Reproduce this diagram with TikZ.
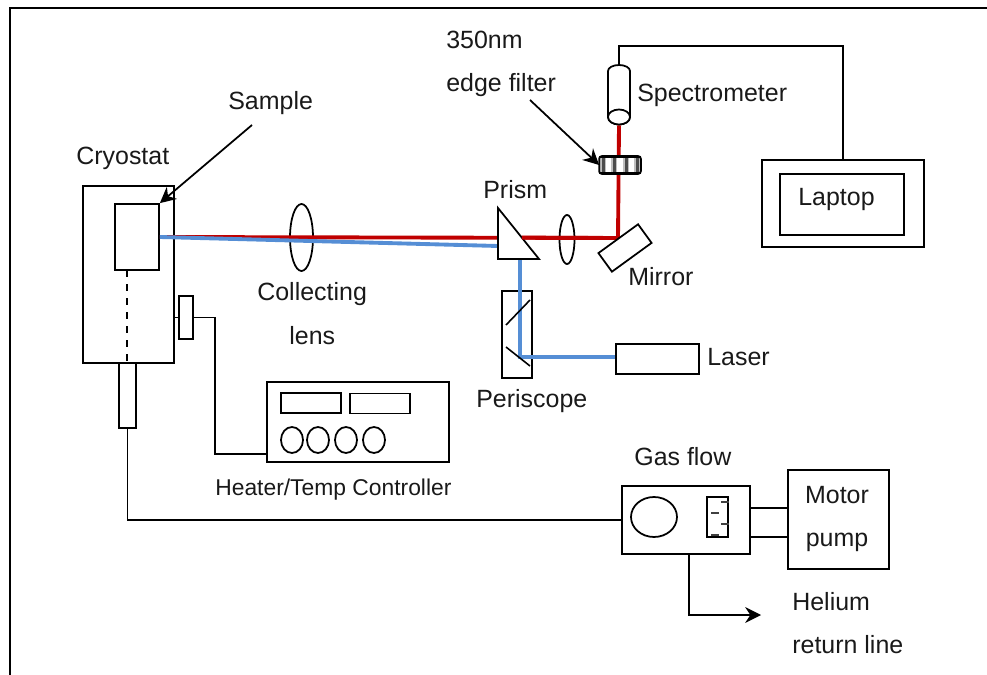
\documentclass[tikz,border=0pt]{standalone}
\usepackage{fontspec}
\setmainfont{Liberation Sans}
\usetikzlibrary{shapes,arrows.meta,positioning,calc}

\tikzset{
    box/.style={draw=black, line width=1pt, rectangle, inner sep=0pt, fill=white},
    knob/.style={draw=black, line width=1pt, ellipse, inner sep=0pt},
    wire/.style={draw=black, line width=0.9pt},
    lbl/.style={font=\fontsize{14.2}{17}\selectfont, anchor=base west, inner sep=0pt, text=black!90},
    redbeam/.style={draw=beamred, line width=2.2pt},
    bluebeam/.style={draw=beamblue, line width=2.2pt},
    pointer/.style={draw=black, line width=1pt, -{Stealth[length=9pt, width=9pt]}}
}

\begin{document}
\begin{tikzpicture}[x=0.02cm, y=-0.02cm]
        \definecolor{beamred}{RGB}{192,0,0}
        \definecolor{beamblue}{RGB}{85,142,213}

        \useasboundingbox (0,0) rectangle (987,675);

        % Page frame, open on the right and at the bottom
        \draw[line width=1.6pt] (10,675) -- (10,8) -- (987,8);

        % Cryostat
        \node[box, minimum width=1.82cm, minimum height=3.54cm] (cryostat) at (128.5,274.5) {};
        \node[box, minimum width=0.88cm, minimum height=1.32cm] (samplebox) at (137,237) {};
        \node[box, minimum width=0.34cm, minimum height=1.30cm] (tube) at (127.5,395.5) {};
        \node[box, minimum width=0.28cm, minimum height=0.86cm] (heater) at (186,317.5) {};
        \draw[wire, line width=1pt, dash pattern=on 4pt off 4pt] (127,270) -- (127,363);
        \coordinate (heaterin) at (cryostat.east |- heater.west);
        \draw[wire] (heaterin) -- (heater.west);

        % Heater controller
        \node[box, minimum width=3.64cm, minimum height=1.60cm] (controller) at (358,422) {};
        \node[box, minimum width=1.20cm, minimum height=0.40cm] (displayA) at (311,403) {};
        \node[box, minimum width=1.20cm, minimum height=0.40cm] (displayB) at (380,403.5) {};
        \foreach \kx/\kname in {292/knobA, 318/knobB, 346/knobC, 374/knobD} {
            \node[knob, minimum width=0.44cm, minimum height=0.52cm] (\kname) at (\kx,440) {};
        }
        \coordinate (heatcorner) at (215,317.5);
        \coordinate (heatin) at (controller.west |- 0,454);
        \draw[wire] (heater.east) -- (heatcorner) |- (heatin);

        % Optics
        \node[knob, minimum width=0.46cm, minimum height=1.34cm] (collectlens) at (301.5,237.5) {};
        \node[knob, minimum width=0.30cm, minimum height=0.98cm] (smalllens) at (567,239.5) {};
        \coordinate (prismA) at (498,208);
        \coordinate (prismB) at (498,259);
        \coordinate (prismC) at (539,259);
        \coordinate (turn) at (618,238);
        \coordinate (blueend) at (498,246);
        \coordinate (bluedrop) at (520,259);
        \coordinate (bluefoot) at (520,357);
        \node[box, minimum width=0.60cm, minimum height=1.74cm] (periscope) at (517,334.5) {};
        \node[box, minimum width=1.66cm, minimum height=0.60cm] (laser) at (657.5,359) {};
        \coordinate (laserout) at (laser.west |- bluefoot);
        \node[knob, minimum width=0.44cm, minimum height=0.30cm, fill=white] (specend) at (619,117) {};

        % Beams
        \draw[redbeam] (samplebox.east) -- (turn) -- (specend.south);
        \draw[bluebeam] (samplebox.east) -- (blueend);
        \draw[bluebeam] (bluedrop) -- (bluefoot) -- (laserout);

        % Parts that sit on the beams
        \draw[line width=1pt, fill=white] (prismA) -- (prismB) -- (prismC) -- cycle;
        \draw[redbeam] ($(prismA)!0.58!(prismC)$) -- (turn);
        \node[box, rotate=36, minimum width=0.98cm, minimum height=0.46cm] (mirror) at (625,248) {};
        \draw[line width=0.9pt] (506,325) -- (530,300);
        \draw[line width=0.9pt] (506,347) -- (530,366);

        % Filter
        \node[box, rounded corners=1.5pt, minimum width=0.80cm, minimum height=0.32cm] (filter) at (620,165) {};
        \foreach \sx in {603,614,626,637} {
            \fill[black!25] (\sx-3,158) rectangle (\sx+3,172);
            \fill[black!70] (\sx-1.5,158) rectangle (\sx+1.5,172);
        }
        \draw[line width=1pt, rounded corners=1.5pt] (filter.north west) rectangle (filter.south east);

        % Spectrometer and laptop
        \coordinate (spectop) at (619,65);
        \draw[line width=1pt, fill=white] (608,117) -- (608,71) arc[x radius=11, y radius=6, start angle=180, end angle=360] -- (630,117);
        \node[knob, minimum width=0.44cm, minimum height=0.30cm, fill=white] at (specend) {};
        \node[box, minimum width=3.24cm, minimum height=1.74cm] (laptop) at (843,203.5) {};
        \node[box, minimum width=2.48cm, minimum height=1.22cm] (screen) at (842,204.5) {};
        \coordinate (wiretop) at (619,46);
        \coordinate (wireright) at (843,46);
        \draw[wire] (spectop) -- (wiretop) -- (wireright) -- (laptop.north);

        % Gas flow and pump
        \node[box, minimum width=2.56cm, minimum height=1.36cm] (gasflow) at (686,520) {};
        \node[knob, minimum width=0.92cm, minimum height=0.80cm] (flowdial) at (654,517) {};
        \node[box, minimum width=0.42cm, minimum height=0.80cm] (gauge) at (717.5,517) {};
        \foreach \gx/\gy in {725/502, 715/513, 725/524, 715/535} {
            \draw[line width=1pt, black!75] (\gx-4,\gy) -- (\gx+4,\gy);
        }
        \node[box, minimum width=2.02cm, minimum height=1.98cm] (pump) at (838.5,519.5) {};
        \draw[wire] (gasflow.east |- 0,508) -- (pump.west |- 0,508);
        \draw[wire] (gasflow.east |- 0,537) -- (pump.west |- 0,537);
        \draw[wire] (tube.south) |- (gasflow.west);
        \coordinate (returnstart) at (689,554);
        \coordinate (returnend) at (761,615);
        \draw[wire, -{Stealth[length=9pt, width=9pt]}] (returnstart) |- (returnend);

        % Labels
        \node[lbl] (lblnm) at (446,49) {350nm};
        \node[lbl] (lbledge) at (446,92) {edge filter};
        \node[lbl] (lblspec) at (637,102) {Spectrometer};
        \node[lbl] (lblsample) at (228,110) {Sample};
        \node[lbl] (lblcryo) at (76,165) {Cryostat};
        \node[lbl] (lblprism) at (483,199) {Prism};
        \node[lbl] (lblmirror) at (628,286) {Mirror};
        \node[lbl] (lblcollect) at (257,301) {Collecting};
        \node[lbl] (lbllens) at (289,345) {lens};
        \node[lbl] (lblperi) at (476,407) {Periscope};
        \node[lbl] (lbllaser) at (707,366) {Laser};
        \node[lbl] (lbllaptop) at (798,206) {Laptop};
        \node[lbl, font=\fontsize{13}{16}\selectfont] (lblheater) at (215,495) {Heater/Temp Controller};
        \node[lbl] (lblgas) at (634,465) {Gas flow};
        \node[lbl, anchor=base] (lblmotor) at (837,503) {Motor};
        \node[lbl, anchor=base] (lblpump) at (837,546) {pump};
        \node[lbl] (lblhelium) at (792,610) {Helium};
        \node[lbl] (lblreturn) at (792,653) {return line};

        % Pointers
        \coordinate (samplefrom) at (252,125);
        \coordinate (filterfrom) at (530,100);
        \draw[pointer] (samplefrom) -- (samplebox.north east);
        \draw[pointer] (filterfrom) -- (filter.west);
    \end{tikzpicture}
\end{document}
